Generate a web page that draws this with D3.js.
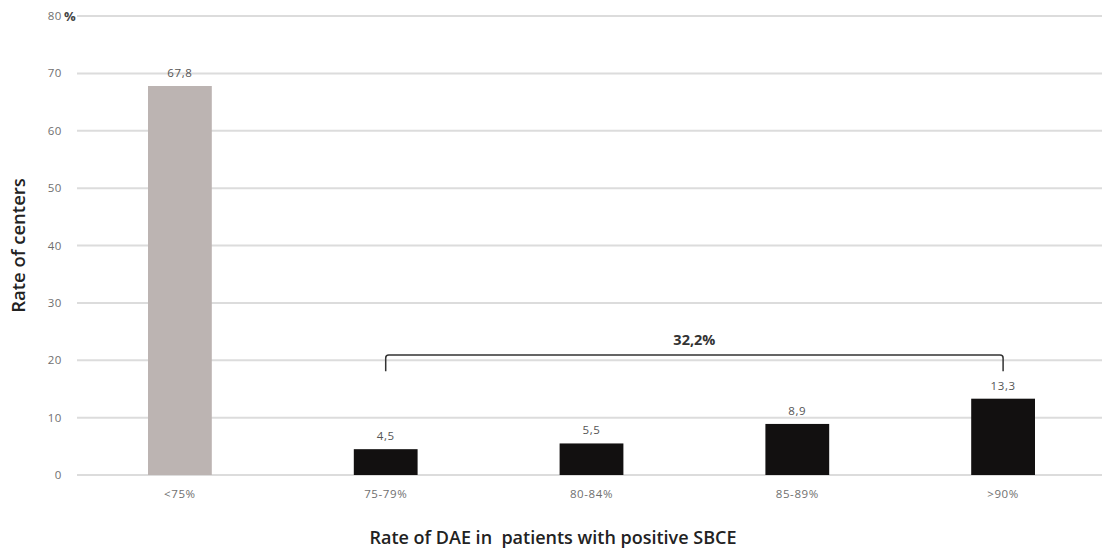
<!DOCTYPE html>
<html>
<head>
<meta charset="utf-8">
<script src="https://cdn.jsdelivr.net/npm/d3@7"></script>
<style>
  body { margin: 0; background: #fff; }
  svg { display: block; font-family: "Open Sans", sans-serif; }
</style>
</head>
<body>
<div id="chart"></div>
<script>
// Data
var categories = ["<75%", "75-79%", "80-84%", "85-89%", ">90%"];
var values = [67.8, 4.5, 5.5, 8.9, 13.3];
var labels = ["67,8", "4,5", "5,5", "8,9", "13,3"];
var yTicks = [0, 10, 20, 30, 40, 50, 60, 70, 80];
var bracketLabel = "32,2%";
var bracketFrom = "75-79%", bracketTo = ">90%";

// Basic size information
var svgWidth = 1102, svgHeight = 554;
var plot = {left: 77, right: 1106, top: 16, bottom: 475};

var svg = d3.select("#chart").append("svg")
    .attr("width", svgWidth)
    .attr("height", svgHeight);

var x = d3.scaleBand()
    .domain(categories)
    .range([plot.left, plot.right])
    .paddingInner(0.69)
    .paddingOuter(0.345);

var y = d3.scaleLinear()
    .domain([0, 80])
    .range([plot.bottom, plot.top]);

// Gridlines
svg.append("g")
    .selectAll("line")
    .data(yTicks)
    .join("line")
        .attr("x1", plot.left)
        .attr("x2", svgWidth)
        .attr("y1", d => y(d))
        .attr("y2", d => y(d))
        .attr("stroke", "#dcdcdc")
        .attr("stroke-width", 2);

// Y tick labels
svg.append("g")
    .selectAll("text")
    .data(yTicks)
    .join("text")
        .attr("x", 62)
        .attr("y", d => y(d))
        .attr("dy", "0.35em")
        .attr("text-anchor", "end")
        .attr("fill", "#6f6f6f")
        .style("font-size", "11.5px")
        .style("letter-spacing", "0.6px")
        .text(d => d);

svg.append("text")
    .attr("x", 64)
    .attr("y", y(80))
    .attr("dy", "0.35em")
    .attr("fill", "#444")
    .style("font-size", "13px")
    .style("font-weight", "bold")
    .text("%");

// Bars
svg.append("g")
    .selectAll("rect")
    .data(values)
    .join("rect")
        .attr("x", (d, i) => x(categories[i]))
        .attr("y", d => y(d))
        .attr("width", x.bandwidth())
        .attr("height", d => y(0) - y(d))
        .attr("fill", (d, i) => i === 0 ? "#bcb4b2" : "#121010");

// Value labels
svg.append("g")
    .selectAll("text")
    .data(values)
    .join("text")
        .attr("x", (d, i) => x(categories[i]) + x.bandwidth() / 2)
        .attr("y", d => y(d) - 9)
        .attr("text-anchor", "middle")
        .attr("fill", "#555")
        .style("font-size", "11.5px")
        .style("letter-spacing", "0.6px")
        .text((d, i) => labels[i]);

// X tick labels
svg.append("g")
    .selectAll("text")
    .data(categories)
    .join("text")
        .attr("x", d => x(d) + x.bandwidth() / 2)
        .attr("y", 498)
        .attr("text-anchor", "middle")
        .attr("fill", "#6f6f6f")
        .style("font-size", "11.5px")
        .style("letter-spacing", "0.6px")
        .text(d => d);

// Bracket over the black bars
var bx0 = x(bracketFrom) + x.bandwidth() / 2;
var bx1 = x(bracketTo) + x.bandwidth() / 2;
var by = y(20.9), byEnd = y(18.1);
svg.append("path")
    .attr("d", "M" + bx0 + "," + byEnd + "V" + (by + 3) + "Q" + bx0 + "," + by + " " + (bx0 + 3) + "," + by +
               "H" + (bx1 - 3) + "Q" + bx1 + "," + by + " " + bx1 + "," + (by + 3) + "V" + byEnd)
    .attr("fill", "none")
    .attr("stroke", "#333")
    .attr("stroke-width", 1.5);

svg.append("text")
    .attr("x", (bx0 + bx1) / 2)
    .attr("y", by - 10)
    .attr("text-anchor", "middle")
    .attr("fill", "#333")
    .style("font-size", "14.5px")
    .style("font-weight", "bold")
    .text(bracketLabel);

// Axis titles
svg.append("text")
    .attr("transform", "translate(25," + (plot.top + plot.bottom) / 2 + ") rotate(-90)")
    .attr("text-anchor", "middle")
    .attr("fill", "#222")
    .style("font-size", "18.5px")
    .style("font-weight", "600")
    .text("Rate of centers");

svg.append("text")
    .attr("x", 553)
    .attr("y", 544)
    .attr("text-anchor", "middle")
    .attr("fill", "#222")
    .attr("xml:space", "preserve")
    .style("white-space", "pre")
    .style("font-size", "18px")
    .style("font-weight", "600")
    .text("Rate of DAE in  patients with positive SBCE");
</script>
</body>
</html>
